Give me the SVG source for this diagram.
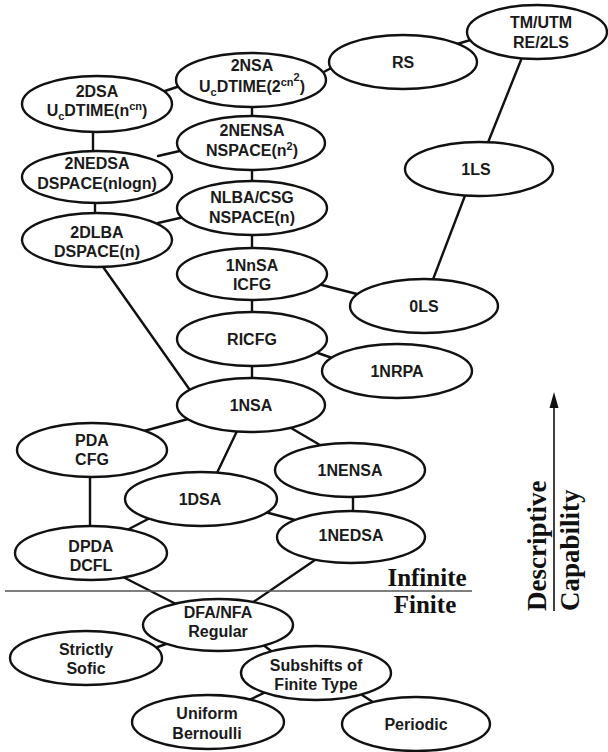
<svg xmlns="http://www.w3.org/2000/svg" width="608" height="752" viewBox="0 0 608 752">
<style>
  .n ellipse { fill: #fff; stroke: #111; stroke-width: 2.4; }
  .n text, text.l { font-family: "Liberation Sans", Arial, sans-serif; font-weight: bold; font-size: 16px; fill: #1a1a1a; text-anchor: middle; }
  .sm { font-size: 11px; }
  #connectors line { stroke: #111; stroke-width: 2.4; stroke-linecap: round; }
  .serif { font-family: "Liberation Serif", "Times New Roman", serif; font-weight: bold; fill: #111; }
</style>
<rect width="608" height="752" fill="#fff"/>

<g id="connectors">
  <line x1="165" y1="91" x2="183" y2="85"/>
  <line x1="322" y1="73" x2="333" y2="67"/>
  <line x1="457" y1="44" x2="474" y2="39"/>
  <line x1="252" y1="105" x2="252" y2="118"/>
  <line x1="93" y1="130" x2="93" y2="153"/>
  <line x1="158" y1="156" x2="184" y2="150"/>
  <line x1="252" y1="168" x2="252" y2="183"/>
  <line x1="95" y1="201" x2="95" y2="215"/>
  <line x1="158" y1="223" x2="184" y2="217"/>
  <line x1="252" y1="233" x2="252" y2="250"/>
  <line x1="523" y1="55" x2="487" y2="145"/>
  <line x1="466" y1="193" x2="432" y2="282"/>
  <line x1="318" y1="284" x2="357" y2="294"/>
  <line x1="252" y1="298" x2="252" y2="314"/>
  <line x1="315" y1="352" x2="335" y2="359"/>
  <line x1="252" y1="364" x2="252" y2="380"/>
  <line x1="101" y1="264" x2="192" y2="393"/>
  <line x1="188" y1="419" x2="144" y2="431"/>
  <line x1="238" y1="429" x2="216" y2="475"/>
  <line x1="291" y1="428" x2="320" y2="445"/>
  <line x1="90" y1="475" x2="90" y2="529"/>
  <line x1="150" y1="518" x2="127" y2="530"/>
  <line x1="265" y1="512" x2="295" y2="520"/>
  <line x1="353" y1="495" x2="353" y2="514"/>
  <line x1="125" y1="578" x2="176" y2="604"/>
  <line x1="315" y1="560" x2="252" y2="603"/>
  <line x1="166" y1="644" x2="152" y2="649"/>
  <line x1="262" y1="644" x2="275" y2="654"/>
  <line x1="266" y1="692" x2="249" y2="700"/>
  <line x1="362" y1="695" x2="376" y2="704"/>
</g>

<line x1="5" y1="591" x2="472" y2="591" stroke="#555" stroke-width="1.4"/>

<g id="tm" class="n"><ellipse cx="537" cy="32" rx="70" ry="27"/><text x="541" y="28">TM/UTM</text><text x="541" y="48">RE/2LS</text></g>
<g id="rs" class="n"><ellipse cx="403" cy="62" rx="74" ry="27"/><text x="403" y="68">RS</text></g>
<g id="n2nsa" class="n"><ellipse cx="251" cy="80" rx="75" ry="27"/><text x="252" y="71">2NSA</text><text x="252" y="92">U<tspan class="sm" dy="4">c</tspan><tspan dy="-4">DTIME(2</tspan><tspan class="sm" dy="-6">cn</tspan><tspan class="sm" dy="-5">2</tspan><tspan dy="11">)</tspan></text></g>
<g id="n2dsa" class="n"><ellipse cx="97" cy="104" rx="75" ry="28"/><text x="97" y="97">2DSA</text><text x="97" y="116">U<tspan class="sm" dy="4">c</tspan><tspan dy="-4">DTIME(n</tspan><tspan class="sm" dy="-6">cn</tspan><tspan dy="6">)</tspan></text></g>
<g id="n2nensa" class="n"><ellipse cx="251" cy="143" rx="74" ry="27"/><text x="252" y="136">2NENSA</text><text x="252" y="156">NSPACE(n<tspan class="sm" dy="-6">2</tspan><tspan dy="6">)</tspan></text></g>
<g id="n2nedsa" class="n"><ellipse cx="97" cy="177" rx="75" ry="26"/><text x="97" y="169">2NEDSA</text><text x="97" y="189">DSPACE(nlogn)</text></g>
<g id="nlba" class="n"><ellipse cx="252" cy="208" rx="75" ry="27"/><text x="252" y="203">NLBA/CSG</text><text x="252" y="223">NSPACE(n)</text></g>
<g id="n2dlba" class="n"><ellipse cx="97" cy="240" rx="75" ry="27"/><text x="97" y="238">2DLBA</text><text x="97" y="257">DSPACE(n)</text></g>
<g id="n1ls" class="n"><ellipse cx="479" cy="169" rx="74" ry="27"/><text x="476" y="175">1LS</text></g>
<g id="n1nnsa" class="n"><ellipse cx="252" cy="274" rx="75" ry="26"/><text x="252" y="271">1NnSA</text><text x="252" y="290">ICFG</text></g>
<g id="n0ls" class="n"><ellipse cx="424" cy="306" rx="74" ry="27"/><text x="424" y="312">0LS</text></g>
<g id="ricfg" class="n"><ellipse cx="252" cy="339" rx="75" ry="27"/><text x="252" y="345">RICFG</text></g>
<g id="n1nrpa" class="n"><ellipse cx="397" cy="371" rx="75" ry="27"/><text x="397" y="377">1NRPA</text></g>
<g id="n1nsa" class="n"><ellipse cx="251" cy="405" rx="74" ry="27"/><text x="251" y="411">1NSA</text></g>
<g id="pda" class="n"><ellipse cx="92" cy="450" rx="75" ry="27"/><text x="92" y="446">PDA</text><text x="92" y="465">CFG</text></g>
<g id="n1nensa" class="n"><ellipse cx="350" cy="470" rx="75" ry="27"/><text x="350" y="476">1NENSA</text></g>
<g id="n1dsa" class="n"><ellipse cx="201" cy="499" rx="76" ry="27"/><text x="200" y="505">1DSA</text></g>
<g id="n1nedsa" class="n"><ellipse cx="351" cy="537" rx="74" ry="26"/><text x="351" y="541">1NEDSA</text></g>
<g id="dpda" class="n"><ellipse cx="91" cy="553" rx="76" ry="27"/><text x="91" y="552">DPDA</text><text x="91" y="571">DCFL</text></g>
<g id="dfa" class="n"><ellipse cx="218" cy="625" rx="75" ry="26"/><text x="218" y="618">DFA/NFA</text><text x="218" y="637">Regular</text></g>
<g id="sofic" class="n"><ellipse cx="86" cy="658" rx="76" ry="27"/><text x="86" y="655">Strictly</text><text x="86" y="674">Sofic</text></g>
<g id="sft" class="n"><ellipse cx="316" cy="673" rx="75" ry="27"/><text x="316" y="671">Subshifts of</text><text x="316" y="690">Finite Type</text></g>
<g id="bern" class="n"><ellipse cx="208" cy="722" rx="76" ry="27"/><text x="207" y="719">Uniform</text><text x="207" y="739">Bernoulli</text></g>
<g id="periodic" class="n"><ellipse cx="416" cy="724" rx="74" ry="27"/><text x="416" y="730">Periodic</text></g>

<g id="boundary-labels">
  <text class="serif" x="427" y="586" font-size="25" text-anchor="middle">Infinite</text>
  <text class="serif" x="425" y="613" font-size="25" text-anchor="middle">Finite</text>
</g>

<g id="axis">
  <line x1="554" y1="404" x2="554" y2="611" stroke="#111" stroke-width="1.6"/>
  <polygon points="554,392 549.5,408 558.5,408" fill="#111"/>
  <text class="serif" font-size="27" transform="translate(546,611) rotate(-90)">Descriptive</text>
  <text class="serif" font-size="27" transform="translate(579,611) rotate(-90)">Capability</text>
</g>
</svg>
